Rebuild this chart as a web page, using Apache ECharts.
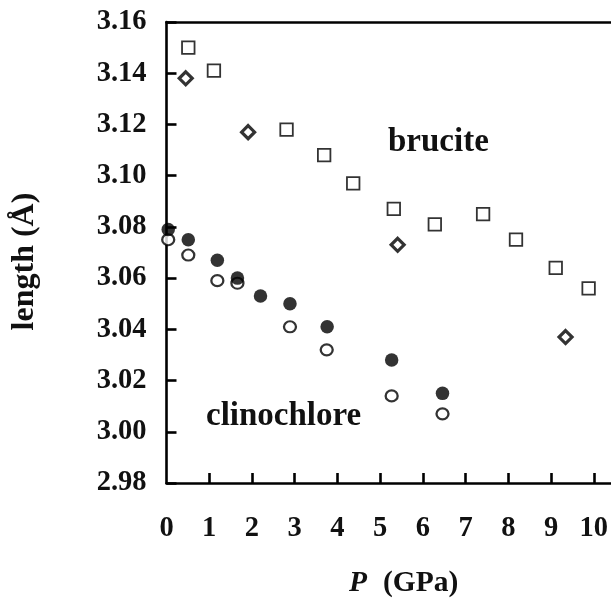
<!DOCTYPE html>
<html>
<head>
<meta charset="utf-8">
<script src="https://cdn.jsdelivr.net/npm/echarts@6/dist/echarts.min.js"></script>
<style>html,body{margin:0;padding:0;background:#fff}#c{width:611px;height:605px}</style>
</head>
<body>
<div id="c"></div>
<script>
// brucite, open squares
const bruciteSqP = [0.51, 1.11, 2.81, 3.69, 4.37, 5.32, 6.28, 7.41, 8.18, 9.11, 9.88];
const bruciteSqL = [3.150, 3.141, 3.118, 3.108, 3.097, 3.087, 3.081, 3.085, 3.075, 3.064, 3.056];
// brucite, open diamonds
const bruciteDiP = [0.45, 1.91, 5.41, 9.34];
const bruciteDiL = [3.138, 3.117, 3.073, 3.037];
// clinochlore, filled circles
const clinoFillP = [0.04, 0.51, 1.19, 1.66, 2.20, 2.89, 3.76, 5.27, 6.46];
const clinoFillL = [3.079, 3.075, 3.067, 3.060, 3.053, 3.050, 3.041, 3.028, 3.015];
// clinochlore, open circles
const clinoOpenP = [0.04, 0.51, 1.19, 1.66, 2.89, 3.75, 5.27, 6.46];
const clinoOpenL = [3.075, 3.069, 3.059, 3.058, 3.041, 3.032, 3.014, 3.007];
// axis ticks
const xTicks = [0, 1, 2, 3, 4, 5, 6, 7, 8, 9, 10];
const yTicks = [2.98, 3.00, 3.02, 3.04, 3.06, 3.08, 3.10, 3.12, 3.14, 3.16];

const pair = (xs, ys) => xs.map((x, i) => [x, ys[i]]);
const FONT = "'Liberation Serif','Times New Roman',serif";
const INK = '#111';
const LINE = '#000';

const chart = echarts.init(document.getElementById('c'));
chart.setOption({
  animation: false,
  backgroundColor: '#fff',
  grid: { left: 166.5, top: 22, right: 0, bottom: 122, containLabel: false },
  xAxis: [{
    type: 'value', min: 0, max: 10.4, interval: 1,
    axisLine: { show: true, onZero: false, lineStyle: { color: LINE, width: 2.6 } },
    axisTick: { show: true, inside: true, length: 10, lineStyle: { color: LINE, width: 2.6 },
      customValues: xTicks.slice(1) },
    axisLabel: { color: INK, fontFamily: FONT, fontWeight: 'bold', fontSize: 28.5, margin: 31,
      customValues: xTicks, formatter: v => String(v) },
    splitLine: { show: false },
    name: '{i|P}(GPa)', nameLocation: 'middle', nameGap: 85,
    nameTextStyle: { color: INK, fontFamily: FONT, fontWeight: 'bold', fontSize: 29.5, padding: [0, 0, 0, 30],
      rich: { i: { fontStyle: 'italic', fontWeight: 'bold', fontFamily: FONT, fontSize: 29.5, color: INK, padding: [0, 16, 0, 0] } } }
  }, {
    type: 'value', min: 0, max: 10.4, position: 'top',
    axisLine: { show: true, onZero: false, lineStyle: { color: LINE, width: 2.6 } },
    axisTick: { show: false }, axisLabel: { show: false }, splitLine: { show: false }
  }],
  yAxis: {
    type: 'value', min: yTicks[0], max: yTicks[yTicks.length - 1], interval: 0.02,
    axisLine: { show: true, onZero: false, lineStyle: { color: LINE, width: 2.6 } },
    axisTick: { show: true, inside: true, length: 10, lineStyle: { color: LINE, width: 2.6 } },
    axisLabel: { color: INK, fontFamily: FONT, fontWeight: 'bold', fontSize: 28.5, margin: 20,
      formatter: v => v.toFixed(2) },
    splitLine: { show: false },
    name: 'length (Å)', nameLocation: 'middle', nameGap: 126, nameRotate: 90,
    nameTextStyle: { color: INK, fontFamily: FONT, fontWeight: 'bold', fontSize: 32, padding: [0, 18, 0, 0] }
  },
  series: [
    { type: 'scatter', name: 'brucite sq', data: pair(bruciteSqP, bruciteSqL), symbol: 'rect', symbolSize: 12.5,
      itemStyle: { color: '#fff', borderColor: LINE, borderWidth: 1.8 }, clip: false, z: 3 },
    { type: 'scatter', name: 'brucite di', data: pair(bruciteDiP, bruciteDiL), symbol: 'diamond', symbolSize: [13, 13],
      itemStyle: { color: '#fff', borderColor: LINE, borderWidth: 3.2 }, clip: false, z: 3 },
    { type: 'scatter', name: 'clino open', data: pair(clinoOpenP, clinoOpenL), symbol: 'circle', symbolSize: [12, 11],
      itemStyle: { color: '#fff', borderColor: LINE, borderWidth: 2.2 }, clip: false, z: 3 },
    { type: 'scatter', name: 'clino fill', data: pair(clinoFillP, clinoFillL), symbol: 'circle', symbolSize: 13.5,
      itemStyle: { color: LINE, borderColor: LINE, borderWidth: 0 }, clip: false, z: 4 }
  ],
  graphic: [
    { type: 'text', left: 388, top: 126, z: 10,
      style: { text: 'brucite', fill: INK, font: "bold 33px 'Liberation Serif','Times New Roman',serif" } },
    { type: 'text', left: 206, top: 400, z: 10,
      style: { text: 'clinochlore', fill: INK, font: "bold 33px 'Liberation Serif','Times New Roman',serif" } }
  ]
});
</script>
</body>
</html>
